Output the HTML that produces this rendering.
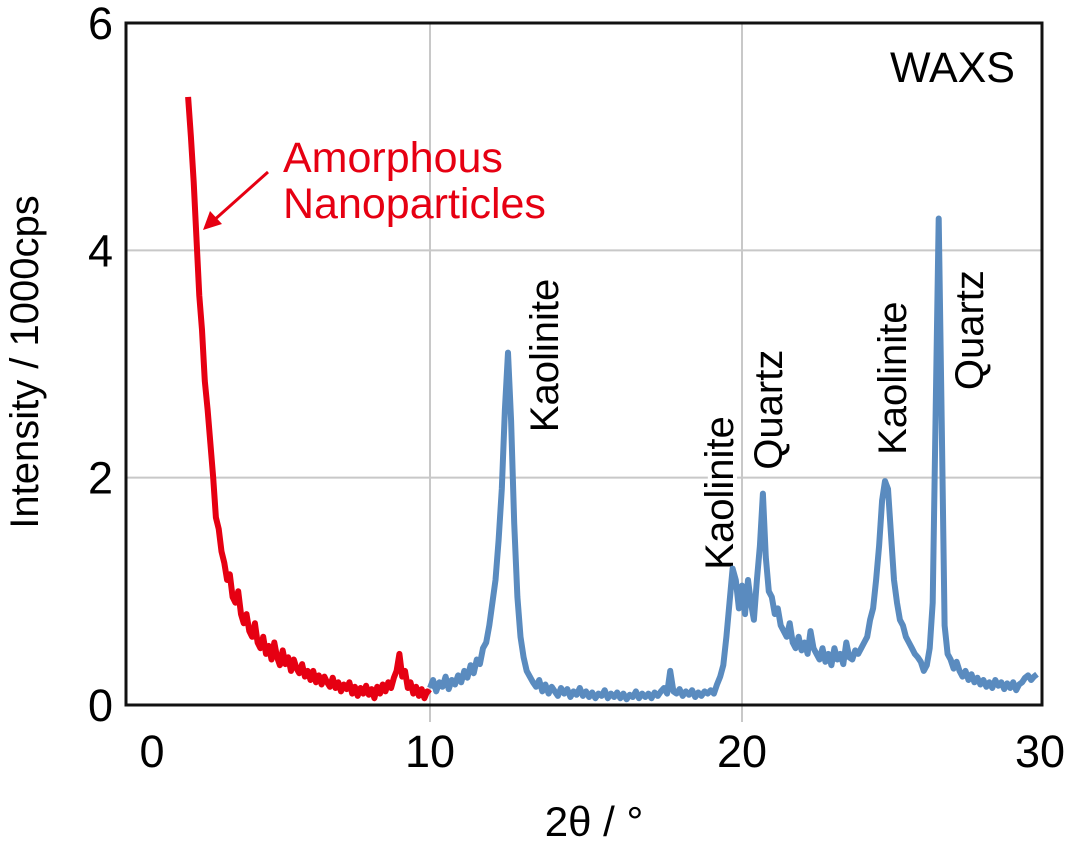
<!DOCTYPE html>
<html><head><meta charset="utf-8"><style>
body{margin:0;background:#fff}
svg{display:block;font-family:"Liberation Sans",Arial,sans-serif}
</style></head><body>
<svg id="chart" width="1068" height="841" viewBox="0 0 1068 841">
<g id="grid"></g>
<g id="peaks"></g>
<g id="series"></g>
<rect x="126" y="23" width="916" height="682" fill="none" stroke="#111" stroke-width="3"/>
<g id="ticks"></g>
<text x="594" y="836" font-size="42" text-anchor="middle">2θ / °</text>
<text transform="translate(38,362) rotate(-90)" font-size="40" text-anchor="middle">Intensity / 1000cps</text>
<text x="1015" y="82" font-size="43" text-anchor="end">WAXS</text>
<text x="283" y="172" font-size="43" fill="#e60012">Amorphous</text>
<text x="283" y="218" font-size="43" fill="#e60012">Nanoparticles</text>
<g>
<line x1="268" y1="172" x2="212" y2="222" stroke="#e60012" stroke-width="3"/>
<polygon points="203,230 210,211 222,224" fill="#e60012"/>
</g>
</svg>
<script>
const xTicks=[0,10,20,30];
const yTicks=[0,2,4,6];
const redStart=1.3, redStep=0.1;
const redY=[5.35,5.0,4.6,4.1,3.6,3.3,2.85,2.6,2.3,2.0,1.65,1.55,1.35,1.25,1.1,1.15,0.95,0.9,1.0,0.8,0.72,0.8,0.65,0.6,0.72,0.55,0.5,0.6,0.45,0.52,0.4,0.55,0.42,0.35,0.48,0.36,0.42,0.3,0.4,0.32,0.28,0.36,0.25,0.3,0.22,0.3,0.2,0.26,0.18,0.25,0.2,0.16,0.24,0.15,0.2,0.12,0.18,0.14,0.2,0.1,0.16,0.08,0.15,0.1,0.17,0.09,0.14,0.06,0.16,0.1,0.18,0.12,0.2,0.15,0.24,0.3,0.45,0.25,0.3,0.15,0.2,0.1,0.16,0.08,0.14,0.06,0.12,0.1];
const blueStart=10, blueStep=0.1;
const blueY=[0.15,0.22,0.12,0.2,0.16,0.25,0.14,0.22,0.18,0.26,
0.2,0.3,0.24,0.35,0.28,0.4,0.36,0.5,0.55,0.7,
0.9,1.1,1.45,1.9,2.6,3.1,2.5,1.6,0.95,0.6,
0.42,0.3,0.25,0.2,0.16,0.22,0.12,0.18,0.1,0.16,
0.12,0.08,0.15,0.1,0.14,0.07,0.12,0.09,0.15,0.08,
0.12,0.07,0.11,0.06,0.1,0.08,0.13,0.06,0.1,0.07,
0.11,0.06,0.1,0.05,0.09,0.07,0.12,0.06,0.1,0.07,
0.1,0.06,0.11,0.08,0.12,0.15,0.1,0.3,0.12,0.1,
0.14,0.08,0.12,0.09,0.13,0.07,0.11,0.08,0.12,0.1,
0.13,0.1,0.18,0.25,0.35,0.6,0.9,1.2,1.1,0.85,
1.05,0.8,1.1,0.9,0.75,1.1,1.4,1.86,1.3,1.0,
0.95,0.8,0.85,0.7,0.65,0.6,0.72,0.55,0.5,0.6,
0.48,0.55,0.45,0.65,0.5,0.45,0.4,0.5,0.38,0.45,
0.35,0.5,0.4,0.45,0.36,0.55,0.42,0.4,0.48,0.45,
0.5,0.55,0.6,0.75,0.85,1.1,1.4,1.8,1.97,1.9,
1.5,1.1,0.9,0.75,0.7,0.6,0.55,0.5,0.45,0.42,
0.38,0.3,0.35,0.5,0.9,2.6,4.28,2.5,0.7,0.45,
0.4,0.32,0.38,0.3,0.25,0.3,0.22,0.27,0.2,0.24,
0.18,0.22,0.16,0.2,0.15,0.22,0.17,0.2,0.14,0.19,
0.15,0.2,0.13,0.18,0.2,0.24,0.26,0.22,0.25,0.27];
const peakNames=["Kaolinite","Kaolinite","Quartz","Kaolinite","Quartz"];
const peakX=[14.1,19.71,21.34,25.5,28.09];
const peakY=[2.40,1.19,2.07,2.2,2.77];

const xd=[0,10,20,30], xr=[152,430,742,1040];
function sx(v){let i=v<10?0:(v<20?1:2);return xr[i]+(v-xd[i])*(xr[i+1]-xr[i])/(xd[i+1]-xd[i]);}
function sy(v){return 705-v*(682/6);}
const NS="http://www.w3.org/2000/svg";
function mk(tag,attrs,parent){const e=document.createElementNS(NS,tag);for(const k in attrs)e.setAttribute(k,attrs[k]);parent.appendChild(e);return e;}
const grid=document.getElementById('grid'),ticks=document.getElementById('ticks'),series=document.getElementById('series'),peaks=document.getElementById('peaks');
xTicks.forEach(t=>{
 if(t>0&&t<30){const l=mk('line',{x1:sx(t),x2:sx(t),y1:23,y2:722,stroke:'#c8c8c8','stroke-width':2},grid);
 
 }
 const tx=mk('text',{x:sx(t),y:767,'font-size':45,'text-anchor':'middle'},ticks);tx.textContent=t;
 
 
});
yTicks.forEach(t=>{
 if(t>0&&t<6){const l=mk('line',{x1:126,x2:1042,y1:sy(t),y2:sy(t),stroke:'#c8c8c8','stroke-width':2},grid);
 
 }
 const tx=mk('text',{x:113,y:sy(t)+16,'font-size':45,'text-anchor':'end'},ticks);tx.textContent=t;
 
 
});
peakNames.forEach((n,i)=>{
 const x=sx(peakX[i]),y=sy(peakY[i]);
 const t=mk('text',{transform:`translate(${x},${y}) rotate(-90)`,'font-size':40,'text-anchor':'start',stroke:'#fff','stroke-width':8,'paint-order':'stroke'},peaks);
 t.textContent=n;
 
 
});
function path(arr,start,step,color,name){
 const d=arr.map((v,i)=>(i?'L':'M')+sx(start+i*step).toFixed(1)+','+sy(v).toFixed(1)).join('');
 const p=mk('path',{d:d,fill:'none',stroke:color,'stroke-width':6,'stroke-linejoin':'round'},series);
 
 
}
path(blueY,blueStart,blueStep,'#5a8bbf','crystalline-series');
path(redY,redStart,redStep,'#e60012','amorphous-series');
</script>
</body></html>
